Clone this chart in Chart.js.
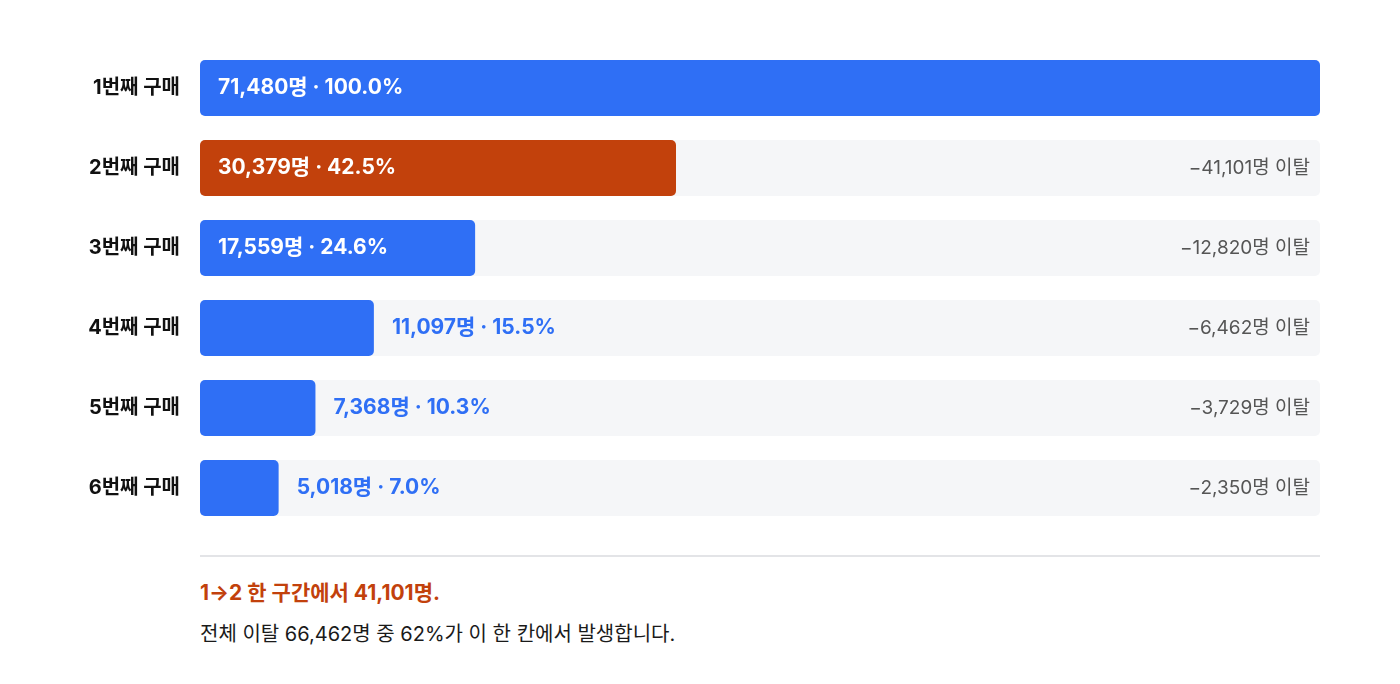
<!DOCTYPE html>
<html><head><meta charset="utf-8">
<script src="https://cdn.jsdelivr.net/npm/chart.js@4"></script>
<style>
body{margin:0;background:#fff;font-family:Inter,"Noto Sans CJK KR",sans-serif;}
#wrap{position:absolute;left:0;top:0;width:1400px;height:540px;}
#div{position:absolute;left:200px;top:555px;width:1120px;height:2px;background:#e3e4e7;}
#t1{position:absolute;left:200px;top:576px;font-size:21px;font-weight:700;color:#c2410c;}
#t2{position:absolute;left:200px;top:618px;font-size:20px;color:#1a1a1a;}
</style></head><body>
<div id="wrap"><canvas id="c"></canvas></div>
<div id="div"></div>
<div id="t1">1→2 한 구간에서 41,101명.</div>
<div id="t2">전체 이탈 66,462명 중 62%가 이 한 칸에서 발생합니다.</div>
<script>
const categories=["1번째 구매","2번째 구매","3번째 구매","4번째 구매","5번째 구매","6번째 구매"];
const buyers=[71480,30379,17559,11097,7368,5018];
const shares=["100.0%","42.5%","24.6%","15.5%","10.3%","7.0%"];
const dropoffs=[null,"−41,101명 이탈","−12,820명 이탈","−6,462명 이탈","−3,729명 이탈","−2,350명 이탈"];
const maxVal=71480;
const BLUE="#2f6ff5",ORANGE="#c2410c";
const FONT='Inter,"Noto Sans CJK KR",sans-serif';
const labelPlugin={id:"lbl",afterDatasetsDraw(ch){
  const ctx=ch.ctx;const meta=ch.getDatasetMeta(0);
  ctx.save();ctx.textBaseline="middle";
  meta.data.forEach((b,i)=>{
    const txt=buyers[i].toLocaleString("en-US")+"명 · "+shares[i];
    ctx.font="bold 21px "+FONT;
    const w=ctx.measureText(txt).width;
    const left=Math.min(b.x,b.base);
    if(Math.abs(b.x-b.base)>w+40){ctx.fillStyle="#fff";ctx.textAlign="left";ctx.fillText(txt,left+18,b.y);}
    else{ctx.fillStyle=BLUE;ctx.textAlign="left";ctx.fillText(txt,b.x+18,b.y);}
    ctx.font="bold 20px "+FONT;ctx.fillStyle="#111";ctx.textAlign="right";
    ctx.fillText(categories[i],180,b.y);
    if(dropoffs[i]){ctx.font="19px "+FONT;ctx.fillStyle="#555";ctx.textAlign="right";ctx.fillText(dropoffs[i],ch.chartArea.right-10,b.y);}
  });
  ctx.restore();
}};
new Chart(document.getElementById("c"),{
  type:"bar",
  data:{labels:categories,datasets:[
    {data:buyers,backgroundColor:buyers.map((v,i)=>i===1?ORANGE:BLUE),borderRadius:5,borderSkipped:false,grouped:false,order:1,barPercentage:0.7,categoryPercentage:1},
    {data:buyers.map(()=>maxVal),backgroundColor:"#f5f6f8",borderRadius:5,borderSkipped:false,grouped:false,order:2,barPercentage:0.7,categoryPercentage:1}
  ]},
  options:{indexAxis:"y",responsive:true,maintainAspectRatio:false,animation:false,
    layout:{padding:{left:200,right:80,top:48,bottom:12}},
    plugins:{legend:{display:false},tooltip:{enabled:false}},
    scales:{x:{display:false,min:0,max:maxVal},y:{display:false}}},
  plugins:[labelPlugin]
});
</script></body></html>
